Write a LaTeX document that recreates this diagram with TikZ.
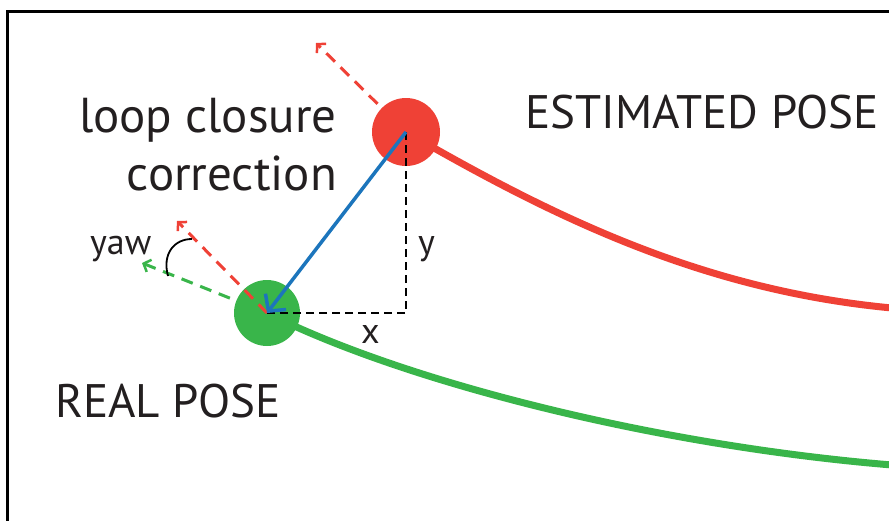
\documentclass[tikz,border=0pt]{standalone}
\usepackage{fontspec}
\setmainfont{PT Sans}
\usetikzlibrary{arrows.meta}
\definecolor{pred}{RGB}{239,65,54}
\definecolor{pgreen}{RGB}{57,181,74}
\definecolor{pblue}{RGB}{28,117,188}
\definecolor{ptext}{RGB}{35,31,32}
\tikzset{
  pose/.style={circle, minimum size=#1, inner sep=0pt},
  path/.style={line width=7pt},
  dirarrow/.style={line width=3pt, dash pattern=on 12pt off 8pt, -{Straight Barb[length=6pt,width=13pt,line width=2.5pt]}},
  bigtext/.style={font=\fontsize{47}{56}\selectfont, text=ptext, inner sep=0pt},
  lowtext/.style={font=\fontsize{49}{58}\selectfont, text=ptext, inner sep=0pt},
  smalltext/.style={font=\fontsize{36}{42}\selectfont, text=ptext, inner sep=0pt},
  helper/.style={line width=2.5pt, dash pattern=on 8pt off 5pt}
}
\begin{document}
\begin{tikzpicture}[x=1pt,y=-1pt]
\useasboundingbox (0,0) rectangle (889,520);
% frame
\draw[line width=3pt] (892,11) -- (7,11) -- (7,523);
% pose positions
\coordinate (estc) at (406,132);
\coordinate (realc) at (267,313);
\coordinate (estdir) at (316,43);
\coordinate (realdir) at (177,221);
\coordinate (realyaw) at (142,263);
\coordinate (estend) at (892,308);
\coordinate (realend) at (892,465);
% trajectories
\draw[path, pred] (estc) .. controls (550,215) and (700,290) .. (estend);
\draw[path, pgreen] (realc) .. controls (400,380) and (650,445) .. (realend);
% estimated heading
\draw[dirarrow, pred] (estc) -- (estdir);
% circles
\node[pose=68pt, fill=pred] (est) at (estc) {};
\node[pose=66pt, fill=pgreen] (real) at (realc) {};
% real headings
\draw[dirarrow, pgreen] (real.center) -- (realyaw);
\draw[dirarrow, pred] (real.center) -- (realdir);
% yaw arc
\coordinate (yawA) at (168,276);
\coordinate (yawB) at (192,239);
\draw[line width=1.8pt] (yawA) .. controls (162,254) and (174,239) .. (yawB);
% correction
\draw[helper] (est.center) |- (real.center);
\draw[line width=3.5pt, pblue, -{Straight Barb[length=12pt,width=26pt,line width=3.5pt]}] (est.center) -- (real.center);
% labels
\node[lowtext, anchor=base east] (l1) at (337,132) {loop closure};
\node[lowtext, anchor=base east] (l2) at (337,190) {correction};
\node[bigtext, anchor=base west] (lest) at (525,128) {ESTIMATED POSE};
\node[bigtext, anchor=base west] (lreal) at (55,417) {REAL POSE};
\node[smalltext, anchor=base west] (lyaw) at (90,254) {yaw};
\node[smalltext, anchor=base west] (ly) at (418,254) {y};
\node[smalltext, anchor=base west] (lx) at (361,343) {x};
\end{tikzpicture}
\end{document}
